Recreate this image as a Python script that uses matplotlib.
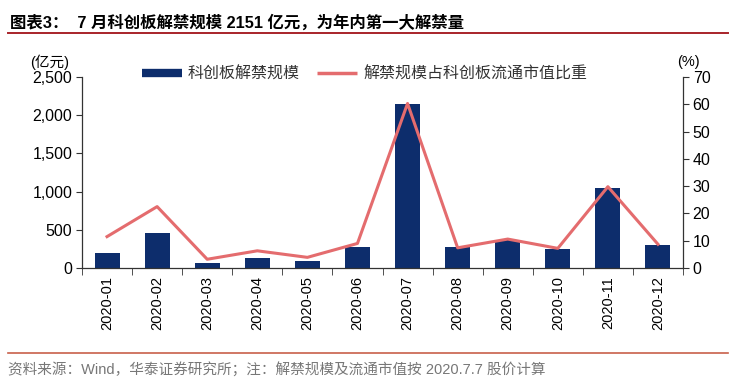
import numpy as np
import matplotlib
matplotlib.use("Agg")
import matplotlib.pyplot as plt
from matplotlib.ticker import FuncFormatter, FixedLocator
from matplotlib.lines import Line2D

plt.rcParams['font.family'] = ['Liberation Sans', 'Noto Sans CJK SC', 'DejaVu Sans']

# Data
months = ["2020-01", "2020-02", "2020-03", "2020-04", "2020-05", "2020-06",
          "2020-07", "2020-08", "2020-09", "2020-10", "2020-11", "2020-12"]
unlock_scale = [200, 462, 61, 135, 96, 275, 2151, 271, 366, 249, 1051, 305]
unlock_share = [11.5, 22.5, 3.2, 6.3, 3.9, 9.0, 60.3, 7.4, 10.6, 7.2, 29.8, 8.7]

bar_label = "科创板解禁规模"
line_label = "解禁规模占科创板流通市值比重"
title = "图表3：  7 月科创板解禁规模 2151 亿元，为年内第一大解禁量"
source = "资料来源：Wind，华泰证券研究所；注：解禁规模及流通市值按 2020.7.7 股价计算"

bar_color = "#0d2d6c"
line_color = "#e46c6e"

fig = plt.figure(figsize=(7.38, 3.86), dpi=100)
ax = fig.add_axes([0.1111, 0.3057, 0.8144, 0.4948])
ax2 = ax.twinx()

x = np.arange(len(months))
ax.bar(x, unlock_scale, width=0.5, color=bar_color, zorder=2)
ax2.plot(x, unlock_share, color=line_color, lw=2.2, zorder=3)

ax.set_xlim(-0.5, len(months) - 0.5)
ax.set_ylim(0, 2500)
ax2.set_ylim(0, 70)
ax.set_yticks(np.arange(0, 2501, 500))
ax2.set_yticks(np.arange(0, 71, 10))
ax.yaxis.set_major_formatter(FuncFormatter(lambda v, p: f"{v:,.0f}"))

# x ticks: labels at centers, tick marks at boundaries
ax.set_xticks(x)
ax.set_xticklabels(months, rotation=90, fontsize=10.5)
ax.tick_params(axis='x', length=0, pad=6)
ax.xaxis.set_minor_locator(FixedLocator(np.arange(-0.5, len(months), 1)))
ax.tick_params(axis='x', which='minor', length=5, direction='out', color='#333333')

ax.tick_params(axis='y', labelsize=11.5, length=4, color='#333333', pad=3)
ax2.tick_params(axis='y', labelsize=11.5, length=4, color='#333333', pad=3)

for a in (ax, ax2):
    a.spines['top'].set_visible(False)
    for s in a.spines.values():
        s.set_color('#333333')
        s.set_linewidth(0.9)
ax2.spines['left'].set_visible(False)
ax2.spines['bottom'].set_visible(False)
ax.spines['right'].set_visible(False)

# unit labels
fig.text(30 / 738, 1 - 62 / 386, "(亿元)", fontsize=10.5, va='center', ha='left')
fig.text(700 / 738, 1 - 62 / 386, "(%)", fontsize=10.5, va='center', ha='right')

# legend
handles = [Line2D([0], [0], color=bar_color, lw=6, solid_capstyle='butt'),
           Line2D([0], [0], color=line_color, lw=2.5, solid_capstyle='butt')]
leg = fig.legend(handles, [bar_label, line_label], loc='center left',
                 bbox_to_anchor=(128 / 738, 1 - 74 / 386), ncol=2, frameon=False,
                 fontsize=11.5, handlelength=2.5, columnspacing=1.1, handletextpad=0.35)
for t in leg.get_texts():
    t.set_color('#333333')

# title and rules
fig.text(10 / 738, 1 - 22 / 386, title, fontsize=11.8, fontweight='bold', va='center', ha='left')
fig.add_artist(Line2D([8 / 738, 728 / 738], [1 - 33 / 386] * 2, color='#a8242a', lw=1.4))
fig.add_artist(Line2D([8 / 738, 728 / 738], [1 - 353 / 386] * 2, color='#c8604a', lw=1.2))
fig.text(8 / 738, 1 - 370 / 386, source, fontsize=10.5, color='#777777', va='center', ha='left')

fig.savefig("out.png", dpi=100, facecolor='white')
